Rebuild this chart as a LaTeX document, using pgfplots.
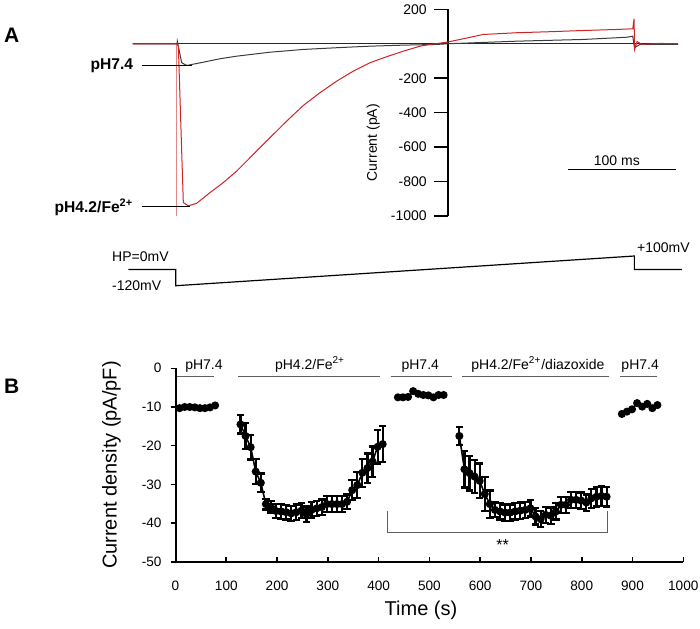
\documentclass[border=0pt]{standalone}
\usepackage{fontspec}
\setmainfont{Liberation Sans}
\usepackage{pgfplots}
\pgfplotsset{compat=1.18}

\definecolor{trred}{RGB}{205,35,35}
\definecolor{trgray}{RGB}{60,60,60}
\definecolor{segline}{RGB}{95,95,95}

\begin{document}
\begin{tikzpicture}[x=1pt,y=1pt]
\useasboundingbox (0,0) rectangle (350,-314);

\node[font=\fontsize{10.5}{12}\selectfont\bfseries] at (5.85,-17.5) {A};
\node[font=\fontsize{10.5}{12}\selectfont\bfseries] at (5.85,-193.35) {B};

% ---------- panel A: current traces ----------
\begin{axis}[
  at={(66.35pt,-108pt)}, anchor=south west,
  scale only axis, width=272.65pt, height=103.35pt,
  xmin=-292.5, xmax=213.8, ymin=-1000, ymax=200,
  enlargelimits=false, clip=false,
  axis lines=middle,
  x axis line style={-, line width=0.6pt, color=black!85},
  y axis line style={-, line width=1pt, color=black},
  xtick=\empty,
  ytick={-1000,-800,-600,-400,-200,0,200},
  yticklabels={-1000,-800,-600,-400,-200,0,200},
  tick align=outside, major tick length=7pt,
  tick style={line width=0.8pt, black},
  yticklabel style={font=\fontsize{7}{8}\selectfont},
]
% capacitive spike
\addplot[trred!55, line width=0.4pt] coordinates {(-251.7,0) (-251.7,-1000)};
% pH7.4
\addplot[trgray, line width=0.5pt] coordinates {
  (-292.5,0) (-251.3,0) (-251.1,15) (-247.0,-110) (-242.3,-126) (-226.9,-107)
  (-211.4,-87) (-195.9,-72) (-165.0,-49) (-134.1,-33) (-103.1,-23) (-72.1,-14)
  (-41.2,-8) (-10.2,-4) (0,0) (64.1,15) (125.9,25) (166.5,38) (171.8,44)
  (173.3,-23) (178.6,-4) (213.8,-4)
};
% pH4.2/Fe2+
\addplot[trred, line width=0.5pt] coordinates {
  (-292.5,0) (-251.3,0) (-250.1,-16) (-245.5,-922) (-240.9,-941) (-233.1,-926)
  (-220.7,-864) (-208.4,-806) (-195.9,-739) (-180.5,-642) (-165.0,-545)
  (-149.5,-449) (-134.1,-358) (-118.6,-284) (-103.1,-217) (-87.7,-159)
  (-72.1,-110) (-56.6,-75) (-41.2,-43) (-25.7,-14) (-16.4,-4) (-0.9,9)
  (11.4,25) (33.1,54) (64.1,64) (95.0,70) (125.9,77) (156.9,83) (171.8,87)
  (173.0,145) (173.5,-33) (175.8,13) (180.4,-4) (197.1,2) (213.8,0)
};
\draw[black, line width=0.6pt] (axis cs:-284.1,-124) -- (axis cs:-237.7,-124);
\draw[black, line width=0.6pt] (axis cs:-284.1,-945) -- (axis cs:-239.3,-945);
\node[anchor=east, inner sep=0pt, font=\fontsize{7.8}{9}\selectfont\bfseries]
  at (axis cs:-291.7,-127) {pH7.4};
\node[anchor=east, inner sep=0pt, font=\fontsize{7.8}{9}\selectfont\bfseries]
  at (axis cs:-291.7,-950) {pH4.2/Fe\textsuperscript{2+}};
\node[rotate=90, font=\fontsize{7}{8}\selectfont] at (axis cs:-69.1,-574) {Current (pA)};
\draw[black, line width=0.6pt] (axis cs:112,-729) -- (axis cs:212,-729);
\node[anchor=base, inner sep=0pt, font=\fontsize{7}{8}\selectfont] at (axis cs:157,-705) {100 ms};
\end{axis}

% ---------- panel A: voltage protocol ----------
\begin{axis}[
  at={(66.35pt,-142.85pt)}, anchor=south west,
  scale only axis, width=272.65pt, height=14.85pt,
  xmin=-292.5, xmax=213.8, ymin=-120, ymax=100,
  hide axis, clip=false,
]
\addplot[black, line width=0.6pt] coordinates {
  (-296.6,0) (-252.5,0) (-252.5,-120) (173.3,100) (173.3,0) (217.3,0)
};
\node[anchor=west, inner sep=0pt, font=\fontsize{7}{8}\selectfont] at (axis cs:-311.9,95) {HP=0mV};
\node[anchor=west, inner sep=0pt, font=\fontsize{7}{8}\selectfont] at (axis cs:-311.9,-122) {-120mV};
\node[anchor=west, inner sep=0pt, font=\fontsize{7}{8}\selectfont] at (axis cs:175.5,164) {+100mV};
\end{axis}

% ---------- panel B: current density ----------
\begin{axis}[
  at={(87.75pt,-280.85pt)}, anchor=south west,
  scale only axis, width=253.9pt, height=96.7pt,
  xmin=0, xmax=1000, ymin=-50, ymax=0,
  enlargelimits=false, clip=false,
  axis lines*=left,
  axis line style={line width=1pt},
  xtick={0,100,200,300,400,500,600,700,800,900,1000},
  ytick={-50,-40,-30,-20,-10,0},
  yticklabels={-50,-40,-30,-20,-10,0},
  tick align=inside, major tick length=2.5pt,
  tick style={black, line width=0.8pt},
  y tick style={xshift=-2.5pt},
  tick label style={font=\fontsize{6.8}{8}\selectfont},
  xticklabel style={yshift=-6pt},
  yticklabel style={xshift=-3.5pt},
  /pgf/number format/assume math mode=true,
  /pgf/number format/1000 sep={},
  xlabel={Time (s)}, ylabel={Current density (pA/pF)},
  label style={font=\fontsize{9}{10}\selectfont},
  every axis x label/.style={at={(axis description cs:0.4835,-0.253)}, anchor=center},
  every axis y label/.style={at={(axis description cs:-0.126,0.5)}, rotate=90, anchor=center},
  ebar/.style={black, line width=0.8pt, mark=*, mark size=1.6pt,
    error bars/.cd, y dir=both, y explicit,
    error bar style={line width=1.1pt, black},
    error mark options={rotate=90, mark size=1.9pt, line width=1.1pt, black}},
]
% pH7.4
\addplot[black, line width=0.8pt, mark=*, mark size=1.6pt] coordinates {
  (8,-10.3) (18,-10.0) (28,-10.0) (38,-10.1) (48,-10.3) (58,-10.3) (68,-10.1) (78,-9.6)
};
% pH4.2/Fe2+
\addplot[ebar] coordinates {
  (128,-14.5) +- (0,2.35) (138,-17.5) +- (0,3.4) (148,-20.4) +- (0,3.2)
  (158,-26.7) +- (0,3.2) (168,-29.6) +- (0,2.4) (178,-35.1) +- (0,1.4)
  (188,-35.8) +- (0,1.5) (198,-36.9) +- (0,1.8) (208,-37.0) +- (0,1.9)
  (218,-37.2) +- (0,1.9) (228,-37.5) +- (0,2.0) (238,-37.2) +- (0,2.0)
  (248,-36.8) +- (0,2.0) (258,-37.7) +- (0,2.0) (268,-36.6) +- (0,2.0)
  (278,-36.2) +- (0,2.0) (288,-35.9) +- (0,2.0) (298,-35.1) +- (0,2.0)
  (308,-35.1) +- (0,2.0) (318,-35.1) +- (0,2.0) (328,-35.1) +- (0,2.0)
  (338,-34.5) +- (0,1.9) (348,-31.5) +- (0,2.6) (358,-30.2) +- (0,3.3)
  (368,-27.0) +- (0,3.6) (378,-25.8) +- (0,3.8) (388,-24.1) +- (0,3.9)
  (398,-20.3) +- (0,4.3) (408,-19.6) +- (0,4.6)
};
% pH7.4
\addplot[black, line width=0.8pt, mark=*, mark size=1.6pt] coordinates {
  (438,-7.5) (448,-7.5) (458,-7.4) (468,-5.9) (478,-6.6) (488,-6.9) (498,-7.0)
  (508,-7.5) (518,-6.9) (528,-6.9)
};
% pH4.2/Fe2+/diazoxide
\addplot[ebar] coordinates {
  (559,-17.5) +- (0,2.25) (569,-26.1) +- (0,4.7) (579,-27.1) +- (0,4.5)
  (589,-28.0) +- (0,4.3) (599,-29.1) +- (0,4.5) (609,-32.5) +- (0,4.3)
  (619,-35.1) +- (0,3.5) (629,-36.6) +- (0,1.9) (639,-37.0) +- (0,2.1)
  (649,-37.3) +- (0,2.1) (659,-37.3) +- (0,2.1) (669,-37.0) +- (0,2.1)
  (679,-36.8) +- (0,2.1) (689,-36.6) +- (0,2.1) (699,-36.2) +- (0,2.1)
  (709,-38.3) +- (0,2.1) (719,-39.0) +- (0,2.1) (729,-37.9) +- (0,2.1)
  (739,-38.1) +- (0,2.1) (749,-37.0) +- (0,2.1) (759,-35.3) +- (0,2.1)
  (769,-35.3) +- (0,2.1) (779,-34.0) +- (0,2.1) (789,-34.0) +- (0,2.1)
  (799,-34.2) +- (0,2.1) (809,-34.7) +- (0,2.1) (819,-33.6) +- (0,2.5)
  (829,-33.2) +- (0,2.5) (839,-33.0) +- (0,2.6) (849,-33.2) +- (0,2.5)
};
% pH7.4
\addplot[black, line width=0.8pt, mark=*, mark size=1.6pt] coordinates {
  (879,-11.8) (889,-11.2) (899,-10.6) (909,-9.0) (919,-9.9) (929,-9.2) (939,-10.3) (949,-9.5)
};

% perfusion bars
\draw[segline, line width=0.6pt] (axis cs:2.4,-2.2) -- (axis cs:75.8,-2.2);
\draw[segline, line width=0.6pt] (axis cs:124,-2.2) -- (axis cs:403,-2.2);
\draw[segline, line width=0.6pt] (axis cs:424,-2.2) -- (axis cs:545,-2.2);
\draw[segline, line width=0.6pt] (axis cs:565,-2.2) -- (axis cs:854,-2.2);
\draw[segline, line width=0.6pt] (axis cs:875,-2.2) -- (axis cs:949,-2.2);
\begin{scope}[every node/.style={anchor=base, inner sep=0pt, font=\fontsize{7}{8}\selectfont}]
\node at (axis cs:56,-0.3) {pH7.4};
\node at (axis cs:265,-0.3) {pH4.2/Fe\textsuperscript{2+}};
\node at (axis cs:482,-0.3) {pH7.4};
\node at (axis cs:713.6,-0.3) {pH4.2/Fe\textsuperscript{2+}/diazoxide};
\node at (axis cs:915,-0.3) {pH7.4};
\end{scope}

% significance bracket
\draw[segline, line width=0.6pt] (axis cs:418,-37) -- (axis cs:418,-42.4)
  -- (axis cs:851,-42.4) -- (axis cs:851,-37);
\node[font=\fontsize{8}{9}\selectfont] at (axis cs:644,-45.7) {**};
\end{axis}
\end{tikzpicture}
\end{document}
